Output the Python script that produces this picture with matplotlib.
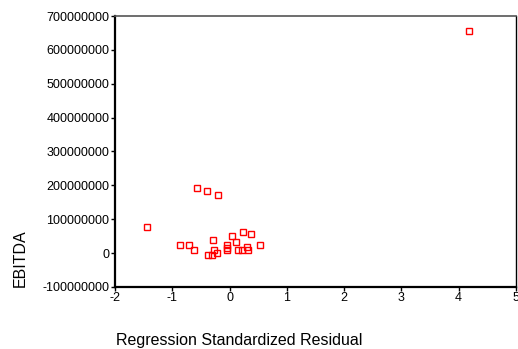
import matplotlib
matplotlib.use("Agg")
import matplotlib.pyplot as plt

plt.rcParams['font.family'] = ['Liberation Sans', 'DejaVu Sans']

# standardized residuals vs EBITDA
resid = [-1.44, -0.87, -0.70, -0.62, -0.57, -0.39, -0.20, -0.29, -0.27,
         -0.38, -0.31, -0.22, -0.05, -0.05, -0.05, 0.05, 0.11, 0.23,
         0.37, 0.54, 0.15, 0.22, 0.30, 0.32, 4.18]
ebitda = [76e6, 25e6, 25e6, 9e6, 193e6, 183e6, 172e6, 38e6, 9e6,
          -5e6, -5e6, 0, 25e6, 14e6, 8e6, 50e6, 32e6, 63e6,
          55e6, 25e6, 8e6, 8e6, 17e6, 8e6, 656e6]

xticks = [-2, -1, 0, 1, 2, 3, 4, 5]
yticks = [-100000000, 0, 100000000, 200000000, 300000000, 400000000,
          500000000, 600000000, 700000000]

fig = plt.figure(figsize=(5.18, 3.49), dpi=100)
ax = fig.add_axes([0.222, 0.178, 0.774, 0.776])

ax.plot(resid, ebitda, linestyle='none', marker='s', markersize=4.5,
        markerfacecolor='none', markeredgecolor='#ff0000', markeredgewidth=1.0)

ax.set_xlim(-2, 5)
ax.set_ylim(-100000000, 700000000)
ax.set_xticks(xticks)
ax.set_xticklabels([str(t) for t in xticks])
ax.set_yticks(yticks)
ax.set_yticklabels([str(t) for t in yticks])
ax.tick_params(direction='out', length=3, width=1, labelsize=9, colors='black', pad=1)

for side in ['left', 'bottom']:
    ax.spines[side].set_linewidth(1.6)
ax.spines['right'].set_linewidth(1.0)
ax.spines['top'].set_linewidth(1.2)
ax.spines['top'].set_color('#555555')

fig.text(0.039, 0.26, 'EBITDA', rotation=90, fontsize=11.5,
         ha='center', va='center')
fig.text(0.461, 0.023, 'Regression Standardized Residual', fontsize=11.5,
         ha='center', va='center')

fig.savefig('out.png', dpi=100)
